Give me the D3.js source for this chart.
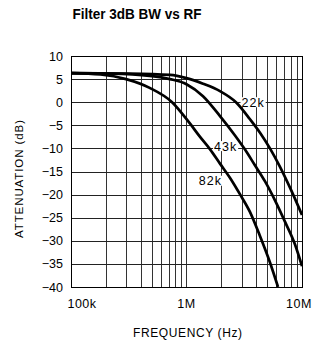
<!DOCTYPE html>
<html><head><meta charset="utf-8">
<script src="https://cdn.jsdelivr.net/npm/d3@7"></script>
<style>
html,body{margin:0;padding:0;background:#fff;}
svg{display:block;font-family:"Liberation Sans",Arial,sans-serif;}
</style></head>
<body>
<script>
// ---- data ----
const titleText = "Filter 3dB BW vs RF";
const xAxisLabel = "FREQUENCY (Hz)";
const yAxisLabel = "ATTENUATION (dB)";
const xTickValues = [1e5, 1e6, 1e7];
const xTickLabels = ["100k", "1M", "10M"];
const yTickValues = [10, 5, 0, -5, -10, -15, -20, -25, -30, -35, -40];

const seriesNames = ["22k", "43k", "82k"];
const freq22k = [1e5, 3.2e5, 7.2e5, 1e6, 1.39e6, 1.95e6, 2.68e6, 3.55e6, 4.33e6, 5.28e6, 6.45e6, 7.87e6, 1e7];
const att22k  = [6.3, 6.2, 5.9, 5.2, 4.0, 2.4, 0, -3.7, -6.6, -10, -14, -18.5, -24.4];
const freq43k = [1e5, 2.2e5, 4.8e5, 7.2e5, 1e6, 1.39e6, 1.95e6, 2.63e6, 3.2e6, 3.9e6, 4.8e6, 5.85e6, 7.1e6, 8.7e6, 1e7];
const att43k  = [6.3, 6.2, 5.7, 5.0, 3.9, 1.3, -3.0, -7.2, -10.2, -13.6, -17.2, -21.3, -25.8, -30.8, -35.5];
const freq82k = [1e5, 1.8e5, 3e5, 4.8e5, 7.5e5, 1.07e6, 1.3e6, 1.6e6, 1.95e6, 2.4e6, 2.9e6, 3.55e6, 4.3e6, 5.3e6, 6.2e6];
const att82k  = [6.3, 6.0, 5.0, 3.1, 0, -4.6, -7.4, -10.2, -13.3, -16.5, -19.9, -23.8, -28.8, -34.8, -40];
// label anchor positions in data units
const labelFreq = [3.77e6, 2.18e6, 1.61e6];
const labelAtt  = [0, -9.5, -17];

const gridDecades = [1e5, 1e6];
const gridMultipliers = [1, 2, 3, 4, 5, 6, 7, 8, 9];

// ---- layout ----
const W = 315, H = 345;
const m = {left: 71, right: 13, top: 56, bottom: 58};
const svg = d3.select("body").append("svg").attr("width", W).attr("height", H);

const x = d3.scaleLog().domain([1e5, 1e7]).range([m.left, W - m.right]);
const y = d3.scaleLinear().domain([-40, 10]).range([H - m.bottom, m.top]);

// grid
const vGrid = [];
gridDecades.forEach(d => gridMultipliers.forEach(k => vGrid.push(d * k)));
vGrid.push(1e7);
svg.append("g").selectAll("line").data(vGrid).join("line")
  .attr("x1", d => Math.round(x(d)) + 0.5).attr("x2", d => Math.round(x(d)) + 0.5)
  .attr("y1", y(10)).attr("y2", y(-40))
  .attr("stroke", "#333").attr("stroke-width", 1);
svg.append("g").selectAll("line").data(yTickValues).join("line")
  .attr("x1", x(1e5)).attr("x2", x(1e7))
  .attr("y1", d => Math.round(y(d)) + 0.5).attr("y2", d => Math.round(y(d)) + 0.5)
  .attr("stroke", "#222").attr("stroke-width", 1);

// border
svg.append("rect")
  .attr("x", Math.round(x(1e5)) + 0.5).attr("y", Math.round(y(10)) + 0.5)
  .attr("width", Math.round(x(1e7)) - Math.round(x(1e5)))
  .attr("height", Math.round(y(-40)) - Math.round(y(10)))
  .attr("fill", "none").attr("stroke", "#000").attr("stroke-width", 1);

// series labels with white backing (under the curves)
const lab = svg.append("g");
seriesNames.forEach((name, i) => {
  const cx = x(labelFreq[i]), cy = y(labelAtt[i]);
  const t = lab.append("text").attr("x", cx).attr("y", cy + 4.5)
    .attr("text-anchor", "middle").attr("font-size", 12.5).attr("letter-spacing", 1)
    .attr("fill", "#000").text(name);
  const bb = t.node().getBBox();
  lab.insert("rect", "text").attr("x", bb.x - 1).attr("y", cy - 5).attr("width", bb.width + 2).attr("height", 10).attr("fill", "#fff");
});

// curves
const series = [
  {f: freq22k, a: att22k},
  {f: freq43k, a: att43k},
  {f: freq82k, a: att82k}
];
svg.append("clipPath").attr("id", "clip").append("rect")
  .attr("x", x(1e5)).attr("y", y(10)).attr("width", x(1e7) - x(1e5)).attr("height", y(-40) - y(10));
const line = d3.line().x(d => x(d[0])).y(d => y(d[1])).curve(d3.curveMonotoneX);
svg.append("g").attr("clip-path", "url(#clip)").selectAll("path").data(series).join("path")
  .attr("d", s => line(s.f.map((f, i) => [f, s.a[i]])))
  .attr("fill", "none").attr("stroke", "#000").attr("stroke-width", 2.7)
  .attr("stroke-linejoin", "round");

// y ticks
svg.append("g").selectAll("text").data(yTickValues).join("text")
  .attr("x", 63).attr("y", d => y(d) + 4.5).attr("text-anchor", "end")
  .attr("font-size", 12.5).attr("fill", "#000")
  .text(d => d < 0 ? "\u2212" + Math.abs(d) : String(d));

// x ticks
const xDx = [11, 0, -3];
svg.append("g").selectAll("text").data(xTickValues).join("text")
  .attr("x", (d, i) => x(d) + xDx[i]).attr("y", 308).attr("text-anchor", "middle")
  .attr("font-size", 12.5).attr("letter-spacing", 0.5).attr("fill", "#000")
  .text((d, i) => xTickLabels[i]);

// axis titles
svg.append("text").attr("x", 187.5).attr("y", 337).attr("text-anchor", "middle")
  .attr("font-size", 12).attr("fill", "#000")
  .attr("textLength", 109).attr("lengthAdjust", "spacing").text(xAxisLabel);
svg.append("text").attr("transform", `translate(23,${179}) rotate(-90)`).attr("text-anchor", "middle")
  .attr("font-size", 11.5).attr("fill", "#000")
  .attr("textLength", 118).attr("lengthAdjust", "spacing").text(yAxisLabel);

// title
svg.append("text").attr("x", 137).attr("y", 19).attr("text-anchor", "middle")
  .attr("font-size", 14).attr("font-weight", "bold").attr("fill", "#000")
  .attr("textLength", 129).attr("lengthAdjust", "spacingAndGlyphs").text(titleText);
</script>
</body></html>
